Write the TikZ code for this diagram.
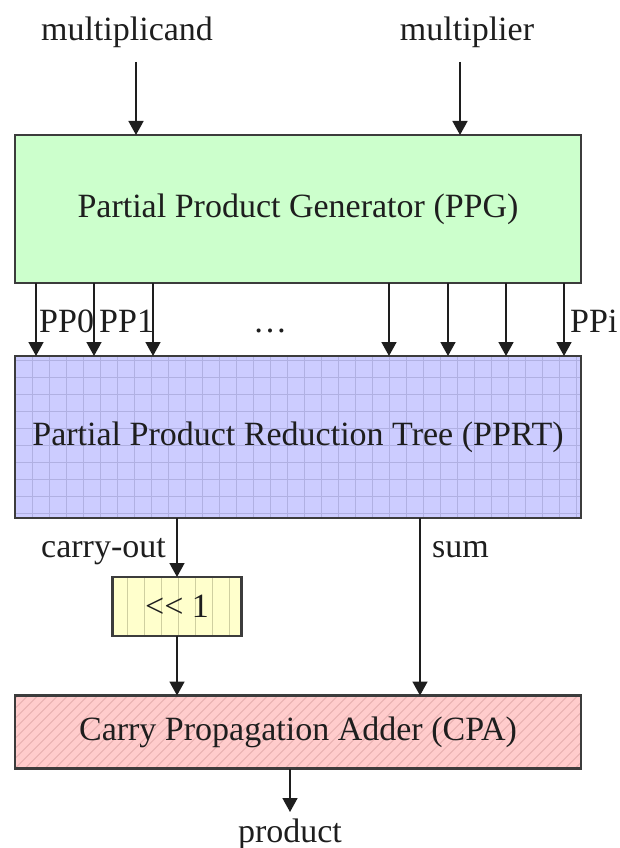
\documentclass[tikz,border=0pt]{standalone}
\usepackage{fontspec}
\setmainfont{Liberation Serif}
\usetikzlibrary{arrows.meta}
\definecolor{ppgfill}{HTML}{CCFFCC}
\definecolor{pprtfill}{HTML}{CCCCFF}
\definecolor{gridcol}{HTML}{B0B0E2}
\definecolor{shiftfill}{HTML}{FFFFCC}
\definecolor{shiftline}{HTML}{CFCFA0}
\definecolor{cpafill}{HTML}{FFCCCC}
\definecolor{hatchcol}{HTML}{E6AEAE}
\definecolor{edgecol}{HTML}{3C3C3C}
\definecolor{inkcol}{HTML}{1E1E1E}
\begin{document}
\begin{tikzpicture}[x=1pt,y=-1pt,
  font=\fontsize{34}{40}\selectfont,
  every node/.style={text=inkcol},
  blk/.style={draw=edgecol, line width=2.2pt, inner sep=0pt, outer sep=0pt, anchor=center},
  arr/.style={draw=inkcol, line width=1.6pt, -{Triangle[width=15pt,length=14pt]}},
  lbl/.style={inner sep=0pt}
]
\useasboundingbox (0,0) rectangle (620,848);

% Partial product generator
\node[blk, fill=ppgfill, minimum width=566pt, minimum height=148pt] (ppg) at (298,209)
  {Partial Product Generator (PPG)};

% Reduction tree with grid texture
\node[blk, fill=pprtfill, minimum width=566pt, minimum height=162pt,
  path picture={\draw[gridcol, line width=1pt, step=17pt]
    (path picture bounding box.south west) grid (path picture bounding box.north east);}]
  (pprt) at (298,437) {Partial Product Reduction Tree (PPRT)};

% Shift box with vertical stripes
\node[blk, fill=shiftfill, minimum width=129pt, minimum height=59pt,
  path picture={\foreach \s in {15,32,...,117}
    \draw[shiftline, line width=0.9pt] ([xshift=\s pt]path picture bounding box.south west)
      -- ([xshift=\s pt]path picture bounding box.north west);}]
  (shift) at (177,606.5) {<{}< 1};

% Carry propagation adder with diagonal hatching
\node[blk, fill=cpafill, minimum width=566pt, minimum height=73pt,
  path picture={\foreach \k in {-8,...,57}
    \draw[hatchcol, line width=0.9pt] ([xshift=\k*10pt]path picture bounding box.south west)
      -- ++(120pt,120pt);}]
  (cpa) at (298,732) {Carry Propagation Adder (CPA)};

% Inputs
\node[lbl, anchor=base] (mcand) at (127,41) {multiplicand};
\node[lbl, anchor=base] (mplier) at (467,41) {multiplier};
\coordinate (mcandsrc) at (136,62);
\coordinate (mpliersrc) at (460,62);
\draw[arr] (mcandsrc) -- (mcandsrc |- ppg.north);
\draw[arr] (mpliersrc) -- (mpliersrc |- ppg.north);

% Partial product buses
\foreach \d in {21,79,138,374,433,491,549}
  \draw[arr] ([xshift=\d pt]ppg.south west) -- ([xshift=\d pt]pprt.north west);
\node[lbl, anchor=base west] (pp0) at (39,332) {PP0};
\node[lbl, anchor=base west] (pp1) at (99,332) {PP1};
\node[lbl, anchor=base] (ppdots) at (270,332) {\dots};
\node[lbl, anchor=base west] (ppi) at (570,332) {PPi};

% Reduction tree outputs
\coordinate (cout) at ([xshift=162pt]pprt.south west);
\coordinate (sumout) at ([xshift=405pt]pprt.south west);
\draw[arr] (cout) -- (cout |- shift.north);
\draw[arr] (shift.south) -- (shift.south |- cpa.north);
\draw[arr] (sumout) -- (sumout |- cpa.north);
\node[lbl, anchor=base east] (coutlbl) at (166,557) {carry-out};
\node[lbl, anchor=base west] (sumlbl) at (432,557) {sum};

% Final product
\node[lbl, anchor=base] (prod) at (290,842) {product};
\coordinate (cpaout) at (290,769);
\draw[arr] (cpaout) -- (290,812);
\end{tikzpicture}
\end{document}
